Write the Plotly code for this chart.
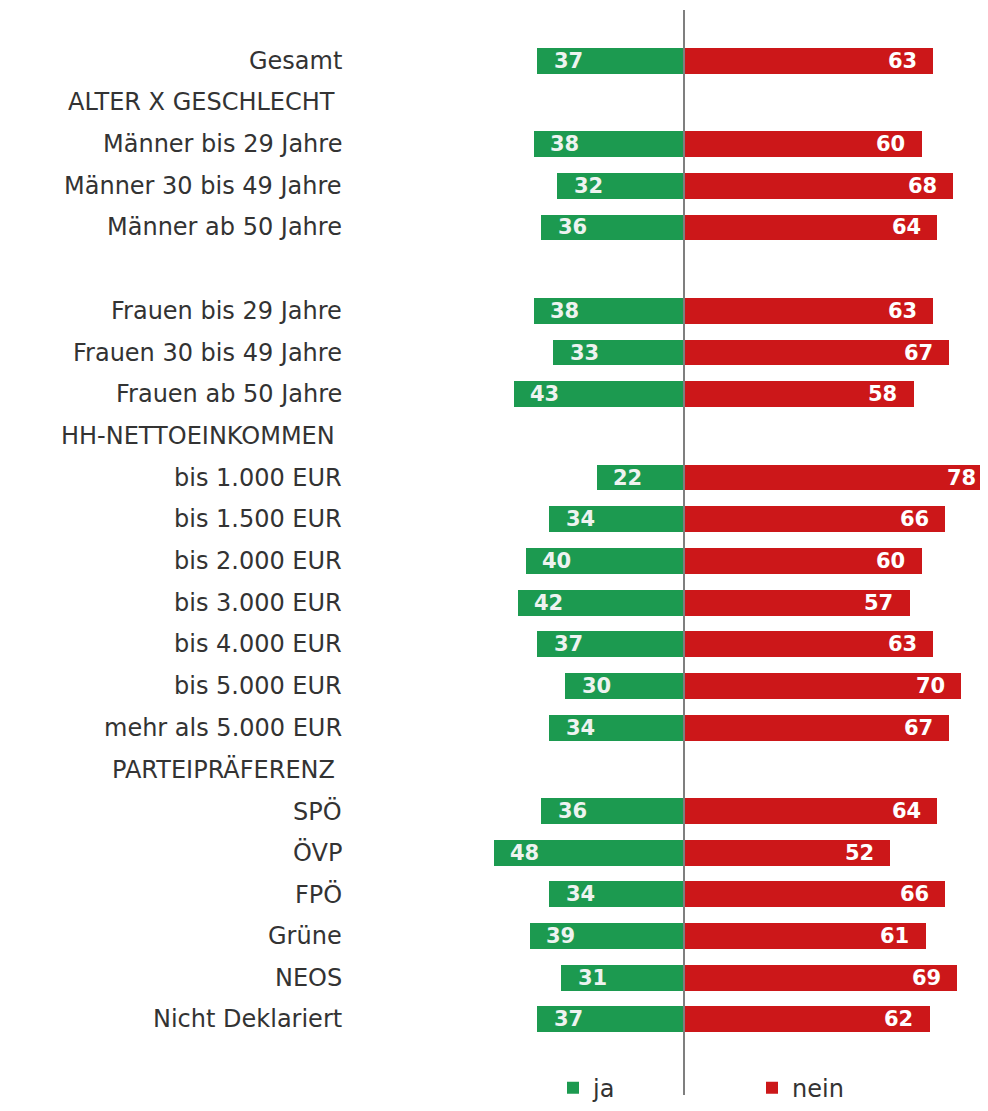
import plotly.graph_objects as go

categories = [
    "Gesamt", "ALTER X GESCHLECHT", "Männer bis 29 Jahre", "Männer 30 bis 49 Jahre",
    "Männer ab 50 Jahre", "", "Frauen bis 29 Jahre", "Frauen 30 bis 49 Jahre",
    "Frauen ab 50 Jahre", "HH-NETTOEINKOMMEN", "bis 1.000 EUR", "bis 1.500 EUR",
    "bis 2.000 EUR", "bis 3.000 EUR", "bis 4.000 EUR", "bis 5.000 EUR",
    "mehr als 5.000 EUR", "PARTEIPRÄFERENZ", "SPÖ", "ÖVP", "FPÖ", "Grüne", "NEOS",
    "Nicht Deklariert",
]
headers = ["ALTER X GESCHLECHT", "HH-NETTOEINKOMMEN", "PARTEIPRÄFERENZ"]
ja = [37, None, 38, 32, 36, None, 38, 33, 43, None, 22, 34, 40, 42, 37, 30, 34,
      None, 36, 48, 34, 39, 31, 37]
nein = [63, None, 60, 68, 64, None, 63, 67, 58, None, 78, 66, 60, 57, 63, 70, 67,
        None, 64, 52, 66, 61, 69, 62]

GREEN = "#1c9a50"
RED = "#cc1719"
FONT = "DejaVu Sans"

# page body has an 8px margin; work in figure pixel coordinates
OFFS = 8
W, H = 988 - OFFS, 1111 - OFFS
PX = 3.96                 # pixels per unit
X0 = 684 - OFFS           # pixel position of zero
ROW0, ROWH = 61 - OFFS, 41.87

xr = [-X0 / PX, (W - X0) / PX]
yr = [(H - ROW0) / ROWH, -ROW0 / ROWH]

ys = list(range(len(categories)))
ja_x = [-v if v is not None else None for v in ja]

fig = go.Figure()
fig.add_trace(go.Bar(y=ys, x=ja_x, orientation="h", name="ja",
                     marker=dict(color=GREEN, line=dict(width=0)), width=0.62))
fig.add_trace(go.Bar(y=ys, x=nein, orientation="h", name="nein",
                     marker=dict(color=RED, line=dict(width=0)), width=0.62))

ann = []
lab_x = -(X0 - (344 - OFFS)) / PX
head_x = -(X0 - (337 - OFFS)) / PX
for i, c in enumerate(categories):
    if not c:
        continue
    ann.append(dict(x=head_x if c in headers else lab_x, y=i, xref="x", yref="y",
                    text=c, showarrow=False, xanchor="right", yanchor="middle",
                    font=dict(family=FONT, size=24, color="#333333")))
OFF = 7.8
for i, (a, b) in enumerate(zip(ja, nein)):
    if a is not None:
        ann.append(dict(x=-(a - OFF), y=i, xref="x", yref="y", text=f"<b>{a}</b>",
                        showarrow=False, xanchor="center", yanchor="middle",
                        font=dict(family=FONT, size=21, color="#eef3f0")))
    if b is not None:
        ann.append(dict(x=(b - OFF), y=i, xref="x", yref="y", text=f"<b>{b}</b>",
                        showarrow=False, xanchor="center", yanchor="middle",
                        font=dict(family=FONT, size=21, color="#ffffff")))

fig.update_layout(
    width=W, height=H,
    margin=dict(l=0, r=0, t=0, b=0),
    paper_bgcolor="white", plot_bgcolor="white",
    barmode="relative", bargap=0,
    xaxis=dict(range=xr, visible=False, fixedrange=True),
    yaxis=dict(range=yr, visible=False, fixedrange=True),
    annotations=ann,
    showlegend=True,
    legend=dict(orientation="h", x=(553 - OFFS) / W, xanchor="left",
                y=1 - (1093 - OFFS) / H, yanchor="middle",
                entrywidth=154, entrywidthmode="pixels",
                font=dict(family=FONT, size=24, color="#333333"),
                bgcolor="rgba(0,0,0,0)", itemclick=False),
    shapes=[dict(type="line", xref="x", yref="paper", x0=0, x1=0,
                 y0=1 - (1100 - OFFS) / H, y1=1 - (10 - OFFS) / H, layer="above",
                 line=dict(color="#7f7f7f", width=2))],
)

fig.write_html("out.html")
